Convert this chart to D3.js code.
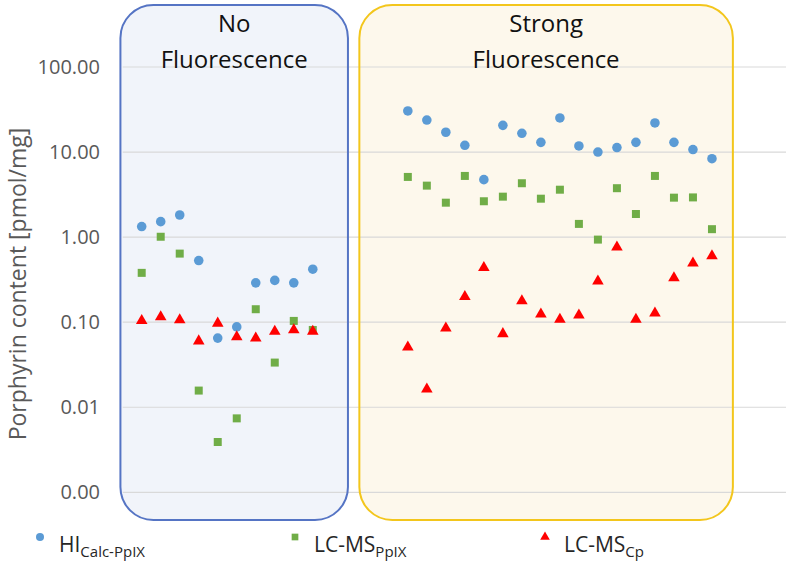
<!DOCTYPE html>
<html>
<head>
<meta charset="utf-8">
<script src="https://cdn.jsdelivr.net/npm/d3@7"></script>
<style>
  body { margin: 0; background: #fff; }
  text { font-family: "Open Sans", sans-serif; }
</style>
</head>
<body>
<script>
const svgWidth = 786
const svgHeight = 564

// sample slots on the x axis (gap between the two groups)
const noFluoSlots = [1, 2, 3, 4, 5, 6, 7, 8, 9, 10]
const strongSlots = [15, 16, 17, 18, 19, 20, 21, 22, 23, 24, 25, 26, 27, 28, 29, 30, 31]

// HI Calc-PpIX
const hiNo = [1.33, 1.52, 1.82, 0.53, 0.065, 0.088, 0.29, 0.31, 0.29, 0.42]
const hiStrong = [30.4, 23.8, 17.1, 12.0, 4.74, 20.6, 16.6, 13.0, 25.2, 11.8, 10.0, 11.3, 13.0, 22.0, 13.0, 10.7, 8.36]

// LC-MS PpIX
const ppixNo = [0.38, 1.01, 0.64, 0.0157, 0.0039, 0.0074, 0.142, 0.0335, 0.1035, 0.081]
const ppixStrong = [5.1, 4.03, 2.54, 5.24, 2.64, 2.99, 4.3, 2.83, 3.61, 1.43, 0.935, 3.76, 1.87, 5.24, 2.91, 2.93, 1.24]

// LC-MS Cp
const cpNo = [0.104, 0.115, 0.106, 0.060, 0.097, 0.067, 0.065, 0.078, 0.081, 0.078]
const cpStrong = [0.0508, 0.0163, 0.085, 0.200, 0.438, 0.073, 0.178, 0.124, 0.108, 0.121, 0.303, 0.76, 0.108, 0.128, 0.332, 0.493, 0.60]

const yTicks = [0.001, 0.01, 0.1, 1, 10, 100]

const groups = [
  { title: ["No", "Fluorescence"], from: -0.12, to: 11.85, stroke: "#5574c4", fill: "#f1f4fa" },
  { title: ["Strong", "Fluorescence"], from: 12.45, to: 32.1, stroke: "#f3c61c", fill: "#fdf8ec" }
]

const slots = noFluoSlots.concat(strongSlots)
const series = [
  { name: "HI", sub: "Calc-PpIX", color: "#5b9bd5", shape: d3.symbolCircle, size: 72, values: hiNo.concat(hiStrong) },
  { name: "LC-MS", sub: "PpIX", color: "#70ad47", shape: d3.symbolSquare, size: 64, values: ppixNo.concat(ppixStrong) },
  { name: "LC-MS", sub: "Cp", color: "#ff0000", shape: d3.symbolTriangle, size: 58, values: cpNo.concat(cpStrong) }
]

const svg = d3.select("body").append("svg")
    .attr("width", svgWidth)
    .attr("height", svgHeight)

const x = d3.scaleLinear()
    .domain([0, 35])
    .range([122.7, 788])

const y = d3.scaleLog()
    .domain([0.001, 100])
    .range([492.3, 67])

// group box fills (under the grid)
const box = svg.append("g")
  .selectAll("g")
  .data(groups)
  .enter()
  .append("g")

box.append("rect")
    .attr("x", d => x(d.from))
    .attr("y", 5)
    .attr("width", d => x(d.to) - x(d.from))
    .attr("height", 515)
    .attr("rx", 33)
    .attr("fill", d => d.fill)

// gridlines
svg.append("g")
  .selectAll("line")
  .data(yTicks)
  .enter()
  .append("line")
    .attr("x1", x(0))
    .attr("x2", svgWidth)
    .attr("y1", d => y(d))
    .attr("y2", d => y(d))
    .attr("stroke", "#d9d9d9")
    .attr("stroke-width", 1.2)

// box outlines and titles
const boxTop = svg.append("g")
  .selectAll("g")
  .data(groups)
  .enter()
  .append("g")

boxTop.append("rect")
    .attr("x", d => x(d.from))
    .attr("y", 5)
    .attr("width", d => x(d.to) - x(d.from))
    .attr("height", 515)
    .attr("rx", 33)
    .attr("fill", "none")
    .attr("stroke", d => d.stroke)
    .attr("stroke-width", 2)

boxTop.append("text")
    .attr("x", d => (x(d.from) + x(d.to)) / 2)
    .attr("y", 32)
    .attr("text-anchor", "middle")
    .attr("font-size", 24)
    .attr("fill", "#111")
    .selectAll("tspan")
    .data(d => d.title)
    .enter()
    .append("tspan")
      .attr("x", function () { return d3.select(this.parentNode).attr("x") })
      .attr("dy", (d, i) => i ? 36 : 0)
      .text(d => d)

// y axis labels
const yAxis = d3.axisLeft(y)
    .tickValues(yTicks)
    .tickFormat(d3.format(".2f"))
    .tickSize(0)
    .tickPadding(0)

svg.append("g")
    .attr("transform", "translate(100,0)")
    .call(yAxis)
    .call(g => g.select(".domain").remove())
    .call(g => g.selectAll("text")
        .attr("fill", "#595959")
        .attr("font-size", 20)
        .attr("font-family", "Open Sans, sans-serif"))

svg.append("text")
    .attr("transform", "translate(26,284) rotate(-90)")
    .attr("text-anchor", "middle")
    .attr("fill", "#595959")
    .attr("font-size", 23)
    .text("Porphyrin content [pmol/mg]")

// points
series.forEach(s => {
  svg.append("g")
    .selectAll("path")
    .data(s.values)
    .enter()
    .append("path")
      .attr("d", d3.symbol().type(s.shape).size(s.size))
      .attr("transform", (d, i) => `translate(${x(slots[i])},${y(d)})`)
      .attr("fill", s.color)
})

// legend
const legendX = [40, 295, 545]
const legend = svg.append("g")
  .selectAll("g")
  .data(series)
  .enter()
  .append("g")
    .attr("transform", (d, i) => `translate(${legendX[i]},537)`)

legend.append("path")
    .attr("d", d => d3.symbol().type(d.shape).size(d.size * 0.7)())
    .attr("fill", d => d.color)

const lt = legend.append("text")
    .attr("x", 19)
    .attr("y", 15)
    .attr("fill", "#262626")
    .attr("font-size", 21)

lt.append("tspan").text(d => d.name)
lt.append("tspan")
    .attr("dy", 5)
    .attr("font-size", 15)
    .text(d => d.sub)
</script>
</body>
</html>
